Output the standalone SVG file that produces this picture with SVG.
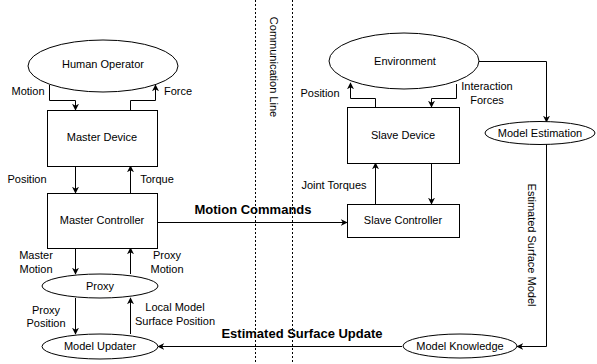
<svg xmlns="http://www.w3.org/2000/svg" width="597" height="364" viewBox="0 0 597 364">
<defs>
<marker id="arr" viewBox="0 0 10 10" refX="9" refY="5" markerWidth="7" markerHeight="7" orient="auto" markerUnits="userSpaceOnUse">
<path d="M0,0 L10,5 L0,10 L3,5 Z" fill="#000"/>
</marker>
</defs>
<style>
.n{fill:#fff;stroke:#000;stroke-width:1}
.c{fill:none;stroke:#000;stroke-width:1;marker-end:url(#arr)}
.t{font-family:"Liberation Sans",Arial,sans-serif;font-size:11px;fill:#000;text-anchor:middle;dominant-baseline:central}
.b{font-family:"Liberation Sans",Arial,sans-serif;font-size:13px;font-weight:bold;fill:#000;text-anchor:middle;dominant-baseline:central}
.d{stroke:#000;stroke-width:1;stroke-dasharray:2 2;fill:none}
</style>
<rect width="597" height="364" fill="#fff"/>
<g id="comm-line">
<line class="d" x1="255.5" y1="0" x2="255.5" y2="364"/>
<line class="d" x1="292.5" y1="0" x2="292.5" y2="364"/>
<text class="t" transform="translate(274,67) rotate(90)">Communication Line</text>
</g>
<g id="connectors">
<path class="c" d="M49.5,85 V100.5 H75.5 V110"/>
<path class="c" d="M130.5,110 V100.5 H155.5 V85"/>
<path class="c" d="M75.5,166 V193"/>
<path class="c" d="M130.5,193 V166"/>
<path class="c" d="M75.5,248 V274"/>
<path class="c" d="M130.5,274 V248"/>
<path class="c" d="M75.5,298 V334"/>
<path class="c" d="M130.5,334 V298"/>
<path class="c" d="M157,222.5 H347"/>
<path class="c" d="M402,346.5 H158"/>
<path class="c" d="M375.5,107 V98.5 H350.5 V83"/>
<path class="c" d="M456.5,84 V98.5 H431.5 V107"/>
<path class="c" d="M375.5,204 V163"/>
<path class="c" d="M431.5,163 V204"/>
<path class="c" d="M479,61.5 H546.5 V122"/>
<path class="c" d="M546.5,144 V346.5 H517"/>
<text class="t" x="28" y="91">Motion</text>
<text class="t" x="178" y="91">Force</text>
<text class="t" x="27" y="179">Position</text>
<text class="t" x="157" y="179">Torque</text>
<text class="t" x="36" y="255">Master</text>
<text class="t" x="36" y="269">Motion</text>
<text class="t" x="167" y="255">Proxy</text>
<text class="t" x="167" y="269">Motion</text>
<text class="t" x="46" y="310">Proxy</text>
<text class="t" x="46" y="323">Position</text>
<text class="t" x="175" y="307">Local Model</text>
<text class="t" x="175" y="321">Surface Position</text>
<text class="b" x="253" y="209">Motion Commands</text>
<text class="b" x="302" y="333">Estimated Surface Update</text>
<text class="t" x="320" y="93">Position</text>
<text class="t" x="487" y="86">Interaction</text>
<text class="t" x="487" y="100">Forces</text>
<text class="t" x="334" y="185">Joint Torques</text>
<text class="t" transform="translate(532,245) rotate(90)">Estimated Surface Model</text>
</g>
<g id="human-operator">
<ellipse class="n" cx="103" cy="66" rx="75" ry="26"/>
<text class="t" x="103" y="64">Human Operator</text>
</g>
<g id="master-device">
<rect class="n" x="47.5" y="110.5" width="110" height="56"/>
<text class="t" x="102" y="137">Master Device</text>
</g>
<g id="master-controller">
<rect class="n" x="47.5" y="193.5" width="110" height="55"/>
<text class="t" x="102" y="220">Master Controller</text>
</g>
<g id="proxy">
<ellipse class="n" cx="100" cy="286" rx="58" ry="12"/>
<text class="t" x="100" y="286">Proxy</text>
</g>
<g id="model-updater">
<ellipse class="n" cx="100" cy="346.5" rx="58" ry="12.5"/>
<text class="t" x="100" y="346">Model Updater</text>
</g>
<g id="environment">
<ellipse class="n" cx="404" cy="61" rx="75" ry="28"/>
<text class="t" x="405" y="61">Environment</text>
</g>
<g id="slave-device">
<rect class="n" x="347.5" y="107.5" width="112" height="56"/>
<text class="t" x="403" y="135">Slave Device</text>
</g>
<g id="slave-controller">
<rect class="n" x="347.5" y="204.5" width="112" height="33"/>
<text class="t" x="403" y="220">Slave Controller</text>
</g>
<g id="model-estimation">
<ellipse class="n" cx="540" cy="133" rx="55" ry="11.5"/>
<text class="t" x="540" y="133">Model Estimation</text>
</g>
<g id="model-knowledge">
<ellipse class="n" cx="460" cy="346" rx="57" ry="12"/>
<text class="t" x="460" y="346">Model Knowledge</text>
</g>
</svg>
